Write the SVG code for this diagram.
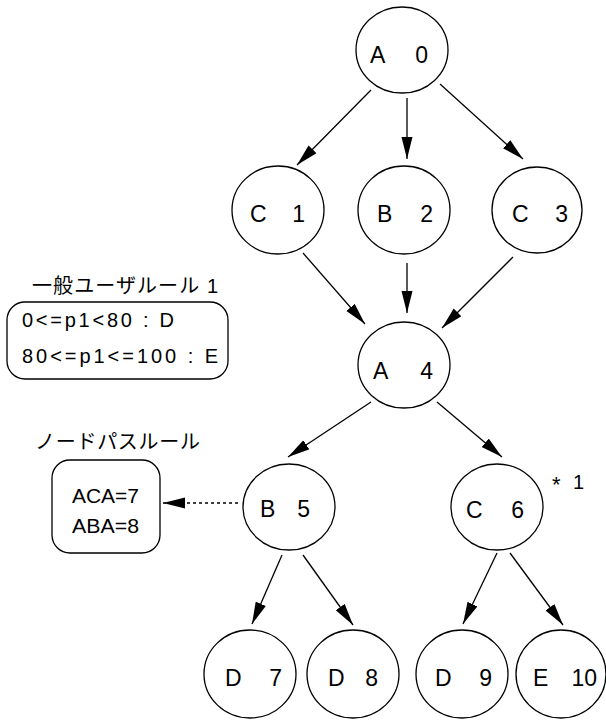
<svg xmlns="http://www.w3.org/2000/svg" width="606" height="721" viewBox="0 0 606 721">
<style>
.n ellipse{fill:#fff;stroke:#000;stroke-width:1.3}
.n text{font-family:"Liberation Sans",Arial,sans-serif;font-size:23px;fill:#000}
.e{stroke:#000;stroke-width:1.3;fill:none;marker-end:url(#ah)}
.d{stroke:#000;stroke-width:1.3;fill:none;stroke-dasharray:3 3;marker-end:url(#ah)}
.box{fill:#fff;stroke:#000;stroke-width:1.3}
.t{font-family:"Liberation Sans",Arial,sans-serif;font-size:20px;fill:#000}
.s{font-family:"Liberation Sans",Arial,sans-serif;font-size:22px;fill:#000}
.jp{font-family:"Liberation Sans","Noto Sans CJK JP",sans-serif;font-size:20px;fill:#000}
</style>
<defs>
<marker id="ah" markerUnits="userSpaceOnUse" markerWidth="22" markerHeight="12" refX="22" refY="5.5" orient="auto">
<path d="M0,0 L22,5.5 L0,11 z" fill="#000"/>
</marker>
</defs>
<g id="connectors">
<line class="e" x1="371" y1="90" x2="297" y2="165"/>
<line class="e" x1="407" y1="98" x2="407" y2="159"/>
<line class="e" x1="440" y1="84" x2="523" y2="159"/>
<line class="e" x1="303" y1="253" x2="365" y2="324"/>
<line class="e" x1="407" y1="263" x2="407" y2="313"/>
<line class="e" x1="513" y1="257" x2="442" y2="328"/>
<line class="e" x1="371" y1="402" x2="288" y2="457"/>
<line class="e" x1="437" y1="402" x2="502" y2="457"/>
<line class="e" x1="282" y1="555" x2="252" y2="624"/>
<line class="e" x1="303" y1="555" x2="353" y2="625"/>
<line class="e" x1="497" y1="553" x2="463" y2="624"/>
<line class="e" x1="510" y1="553" x2="563" y2="625"/>
<line class="d" x1="238" y1="503" x2="163" y2="503"/>
</g>
<g id="n0" class="n"><ellipse cx="402" cy="50" rx="46" ry="43"/><text x="370" y="63">A</text><text x="428" y="63" text-anchor="end">0</text></g>
<g id="n1" class="n"><ellipse cx="278" cy="210" rx="46" ry="44"/><text x="250" y="222">C</text><text x="305" y="222" text-anchor="end">1</text></g>
<g id="n2" class="n"><ellipse cx="404" cy="210" rx="46" ry="44"/><text x="377" y="222">B</text><text x="433" y="222" text-anchor="end">2</text></g>
<g id="n3" class="n"><ellipse cx="537" cy="210" rx="45" ry="43"/><text x="512" y="222">C</text><text x="568" y="222" text-anchor="end">3</text></g>
<g id="n4" class="n"><ellipse cx="404" cy="365" rx="46" ry="43"/><text x="373" y="379">A</text><text x="433" y="379" text-anchor="end">4</text></g>
<g id="n5" class="n"><ellipse cx="289" cy="507" rx="46" ry="43"/><text x="260" y="517">B</text><text x="310" y="517" text-anchor="end">5</text></g>
<g id="n6" class="n"><ellipse cx="497" cy="507" rx="46" ry="43"/><text x="466" y="518">C</text><text x="524" y="518" text-anchor="end">6</text></g>
<g id="n7" class="n"><ellipse cx="250" cy="674" rx="46" ry="44"/><text x="225" y="686">D</text><text x="282" y="686" text-anchor="end">7</text></g>
<g id="n8" class="n"><ellipse cx="353" cy="674" rx="46" ry="44"/><text x="328" y="686">D</text><text x="378" y="686" text-anchor="end">8</text></g>
<g id="n9" class="n"><ellipse cx="462" cy="674" rx="46" ry="44"/><text x="435" y="686">D</text><text x="492" y="686" text-anchor="end">9</text></g>
<g id="n10" class="n"><ellipse cx="561" cy="674" rx="45" ry="44"/><text x="533" y="686">E</text><text x="597" y="686" text-anchor="end">10</text></g>
<g id="mark"><text class="s" x="552" y="492">*</text><text class="t" x="584" y="489" text-anchor="end">1</text></g>
<g id="rule1">
<text class="jp" x="32" y="293" textLength="186" lengthAdjust="spacing">一般ユーザルール 1</text>
<rect class="box" x="7" y="302" width="221" height="77" rx="18"/>
<text class="t" x="22" y="327" textLength="152" lengthAdjust="spacing">0&lt;=p1&lt;80 : D</text>
<text class="t" x="22" y="363" textLength="196" lengthAdjust="spacing">80&lt;=p1&lt;=100 : E</text>
</g>
<g id="rule2">
<text class="jp" x="35" y="449" textLength="165" lengthAdjust="spacing">ノードパスルール</text>
<rect class="box" x="52" y="460" width="108" height="93" rx="18"/>
<text class="t" x="72" y="503" textLength="67" lengthAdjust="spacingAndGlyphs">ACA=7</text>
<text class="t" x="72" y="533" textLength="67" lengthAdjust="spacingAndGlyphs">ABA=8</text>
</g>
</svg>
